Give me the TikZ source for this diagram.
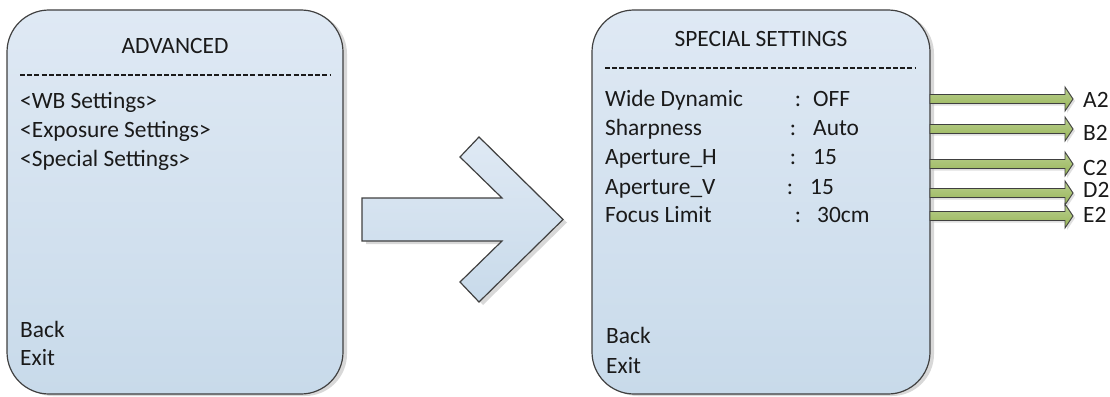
\documentclass[tikz,border=0pt]{standalone}
\usepackage{fontspec}
\setmainfont{Carlito}
\usetikzlibrary{positioning,calc,shadows}

\definecolor{boxtop}{HTML}{DFE9F4}
\definecolor{boxbottom}{HTML}{C8DAEA}
\definecolor{boxline}{HTML}{404040}
\definecolor{greentop}{HTML}{BAD08F}
\definecolor{greenbottom}{HTML}{97B457}
\definecolor{inktext}{HTML}{1A1A1A}

\begin{document}
\begin{tikzpicture}[
    x=1pt, y=-1pt,
    font=\fontsize{23.4}{28.5}\selectfont,
    menu/.style={rectangle, draw=boxline, line width=1.2pt, top color=boxtop, bottom color=boxbottom, rounded corners=42pt, drop shadow={shadow xshift=4pt, shadow yshift=-2pt, fill=black!30, opacity=0.5}},
    title/.style={anchor=base, inner sep=0pt, text=inktext},
    item/.style={anchor=base west, inner sep=0pt, text=inktext},
    colon/.style={anchor=base, inner sep=0pt, text=inktext},
    sep/.style={draw=inktext, line width=1.3pt, dash pattern=on 5pt off 2.2pt},
    bigarrow/.style={draw=boxline, line width=1.2pt, top color=boxtop, bottom color=boxbottom, drop shadow={shadow xshift=4pt, shadow yshift=-3pt, fill=black!30, opacity=0.5}},
    fatarrow/.style={draw=boxline, line width=0.9pt, top color=greentop, bottom color=greenbottom,
        drop shadow={shadow xshift=2pt, shadow yshift=-2pt, fill=black!25, opacity=0.5},
        to path={let \p1=(\tikztostart), \p2=(\tikztotarget) in
            (\x1,{\y1+4.5pt}) -- ({\x2-18pt},{\y1+4.5pt}) -- ({\x2-18pt},{\y1+12pt}) -- ({\x2-10pt},\y1)
            -- ({\x2-18pt},{\y1-12pt}) -- ({\x2-18pt},{\y1-4.5pt}) -- (\x1,{\y1-4.5pt}) -- cycle}}
]
    \useasboundingbox (0,0) rectangle (1110,396);

    % Menus
    \node [menu, minimum width=336pt, minimum height=384pt] (advanced) at (175,202) {};
    \node [menu, minimum width=338pt, minimum height=384pt] (special) at (761,202) {};

    % Big arrow between the menus
    \draw [bigarrow] (362,198) -- (502,198) -- (460,157) -- (479,137) -- (563,219.5)
        -- (479,302) -- (460,282) -- (502,241) -- (362,241) -- cycle;

    % ADVANCED menu
    \node [title] (advtitle) at (175,54) {ADVANCED};
    \draw [sep] (20,75) -- (330,75);
    \node [item] (wb) at (20,108) {<WB Settings>};
    \node [item] (exposure) at (20,137) {<Exposure Settings>};
    \node [item] (specialitem) at (20,166) {<Special Settings>};
    \node [item] (advback) at (20,337) {Back};
    \node [item] (advexit) at (20,365) {Exit};

    % SPECIAL SETTINGS menu
    \node [title] (spectitle) at (761,47) {SPECIAL SETTINGS};
    \draw [sep] (605,68) -- (915,68);
    \node [item] (wide) at (605,106) {Wide Dynamic};
    \node [item] (sharp) at (605,135) {Sharpness};
    \node [item] (aph) at (605,164) {Aperture\_H};
    \node [item] (apv) at (605,194) {Aperture\_V};
    \node [item] (focus) at (605,222) {Focus Limit};
    \node [colon] (widec) at (798,106) {:};
    \node [colon] (sharpc) at (793,135) {:};
    \node [colon] (aphc) at (793,164) {:};
    \node [colon] (apvc) at (790,194) {:};
    \node [colon] (focusc) at (798,222) {:};
    \node [item] (widev) at (813,106) {OFF};
    \node [item] (sharpv) at (813,135) {Auto};
    \node [item] (aphv) at (813,164) {15};
    \node [item] (apvv) at (810,194) {15};
    \node [item] (focusv) at (817,222) {30cm};
    \node [item] (specback) at (606,343) {Back};
    \node [item] (specexit) at (606,373) {Exit};

    % Targets
    \node [item] (A2) at (1083,107) {A2};
    \node [item] (B2) at (1083,140) {B2};
    \node [item] (C2) at (1083,175) {C2};
    \node [item] (D2) at (1083,197) {D2};
    \node [item] (E2) at (1083,222) {E2};

    % Connections
    \coordinate (sa) at (930,99);
    \coordinate (sb) at (930,129);
    \coordinate (sc) at (930,164);
    \coordinate (sd) at (930,193);
    \coordinate (se) at (930,216);
    \draw [fatarrow] (sa) to (A2.west);
    \draw [fatarrow] (sb) to (B2.west);
    \draw [fatarrow] (sc) to (C2.west);
    \draw [fatarrow] (sd) to (D2.west);
    \draw [fatarrow] (se) to (E2.west);

\end{tikzpicture}
\end{document}
